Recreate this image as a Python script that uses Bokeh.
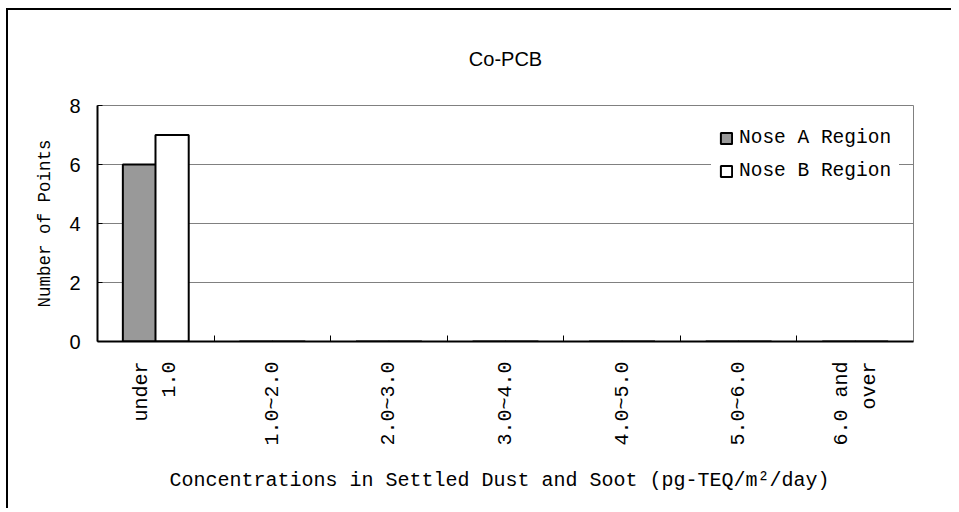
import math
from bokeh.plotting import figure
from bokeh.models import Range1d, FixedTicker, Legend, LegendItem, ColumnDataSource
from bokeh.embed import file_html
from bokeh.resources import INLINE

# ---- data ----
categories = ["under\n1.0", "1.0~2.0", "2.0~3.0", "3.0~4.0", "4.0~5.0", "5.0~6.0", "6.0 and\nover"]
nose_a = [6, 0, 0, 0, 0, 0, 0]
nose_b = [7, 0, 0, 0, 0, 0, 0]
series_names = ["Nose A Region", "Nose B Region"]
y_ticks = [0, 2, 4, 6, 8]
title_text = "Co-PCB"
x_title = "Concentrations in Settled Dust and Soot  (pg-TEQ/m\u00b2/day)"
y_title = "Number of Points"

n = len(categories)
centers = [i + 0.5 for i in range(n)]
bar_w = 0.285
off = 0.14

src = ColumnDataSource(dict(
    xa=[c - off for c in centers], xb=[c + off for c in centers],
    a=nose_a, b=nose_b,
))

p = figure(width=945, height=500, output_backend="svg", toolbar_location=None,
           x_range=Range1d(0, n), y_range=Range1d(0, max(y_ticks)),
           min_border_left=89, min_border_right=40, min_border_top=95, min_border_bottom=169,
           outline_line_color="#808080", border_fill_color="white")
p.styles = {"margin-left": "8px", "margin-top": "10px",
            "box-shadow": "-2px -2px 0 0 #000"}

ra = p.vbar(x="xa", top="a", width=bar_w, source=src, fill_color="#999999", line_color="black", line_width=2)
rb = p.vbar(x="xb", top="b", width=bar_w, source=src, fill_color="white", line_color="black", line_width=2)

# title
p.title.text = title_text
p.title.align = "center"
p.title.text_font = "Liberation Sans"
p.title.text_font_size = "20px"
p.title.text_font_style = "normal"
p.title.text_color = "black"
p.title.standoff = 71

# outline / grid
p.outline_line_width = 1
p.xgrid.visible = False
p.ygrid.grid_line_color = "#808080"
p.ygrid.grid_line_width = 1
p.ygrid.ticker = FixedTicker(ticks=y_ticks)

# y axis
p.yaxis.ticker = FixedTicker(ticks=y_ticks)
p.yaxis.major_tick_in = 5
p.yaxis.major_tick_out = 0
p.yaxis.major_tick_line_color = "black"
p.yaxis.minor_tick_line_color = None
p.yaxis.axis_line_color = "black"
p.yaxis.axis_line_width = 2
p.yaxis.major_label_text_font = "Liberation Sans"
p.yaxis.major_label_text_font_size = "20px"
p.yaxis.major_label_text_color = "black"
p.yaxis.major_label_standoff = 17
p.yaxis.axis_label = y_title
p.yaxis.axis_label_text_font = "Liberation Mono"
p.yaxis.axis_label_text_font_size = "17.5px"
p.yaxis.axis_label_text_font_style = "normal"
p.yaxis.axis_label_text_color = "black"
p.yaxis.axis_label_standoff = 11

# x axis: labels at category centres, ticks at category boundaries
p.xaxis.ticker = FixedTicker(ticks=centers, minor_ticks=list(range(1, n)))
p.xaxis.major_label_overrides = {c: lab for c, lab in zip(centers, categories)}
p.xaxis.major_tick_in = 0
p.xaxis.major_tick_out = 0
p.xaxis.minor_tick_in = 6
p.xaxis.minor_tick_out = 0
p.xaxis.minor_tick_line_color = "black"
p.xaxis.minor_tick_line_width = 1
p.xaxis.axis_line_color = "black"
p.xaxis.axis_line_width = 2
p.xaxis.major_label_orientation = math.pi / 2
p.xaxis.major_label_text_font = "Liberation Mono"
p.xaxis.major_label_text_font_size = "20px"
p.xaxis.major_label_text_color = "black"
p.xaxis.major_label_standoff = 20
p.xaxis.axis_label = x_title
p.xaxis.axis_label_text_font = "Liberation Mono"
p.xaxis.axis_label_text_font_size = "20px"
p.xaxis.axis_label_text_font_style = "normal"
p.xaxis.axis_label_text_color = "black"
p.xaxis.axis_label_standoff = 20

legend = Legend(items=[LegendItem(label=series_names[0], renderers=[ra]),
                       LegendItem(label=series_names[1], renderers=[rb])],
                location=(614, 151), glyph_width=14, glyph_height=14,
                label_height=20, spacing=11, padding=8, label_standoff=6,
                label_text_font="Liberation Mono", label_text_font_size="19.5px",
                label_text_color="black",
                border_line_alpha=0, background_fill_color="white", background_fill_alpha=1,
                margin=0)
p.add_layout(legend)

open("out.html", "w").write(file_html(p, INLINE))
